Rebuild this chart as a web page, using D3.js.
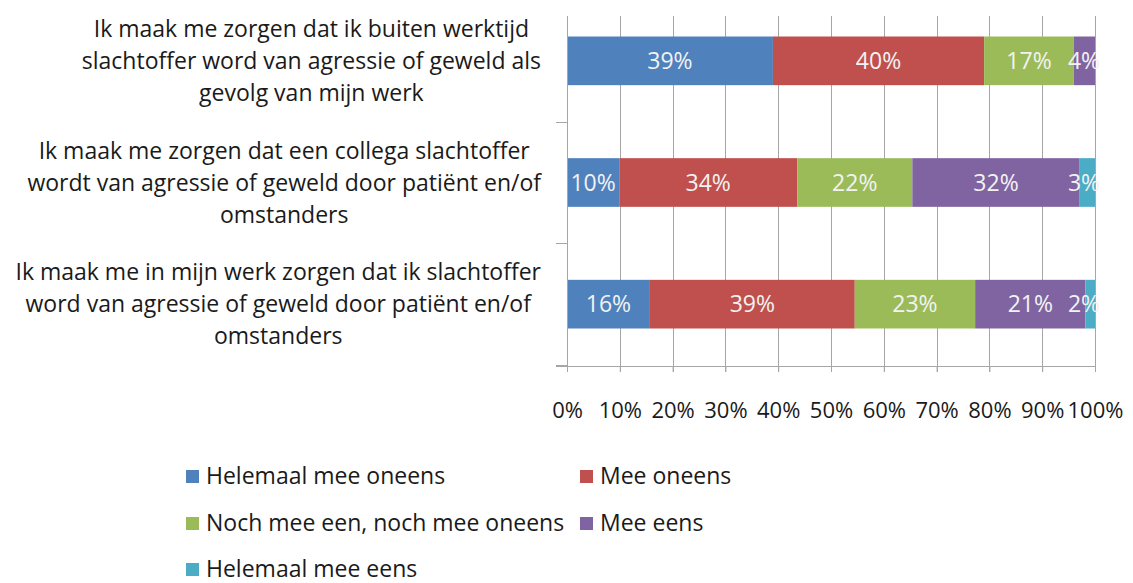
<!DOCTYPE html>
<html>
<head>
<meta charset="utf-8">
<script src="https://cdn.jsdelivr.net/npm/d3@7"></script>
<style>
  body { margin: 0; background: #fff; }
  text { font-family: "Open Sans", sans-serif; }
</style>
</head>
<body>
<div id="chart"></div>
<script>
var categories = [
  ["Ik maak me zorgen dat ik buiten werktijd", "slachtoffer word van agressie of geweld als", "gevolg van mijn werk"],
  ["Ik maak me zorgen dat een collega slachtoffer", "wordt van agressie of geweld door patiënt en/of", "omstanders"],
  ["Ik maak me in mijn werk zorgen dat ik slachtoffer", "word van agressie of geweld door patiënt en/of", "omstanders"]
];
var seriesNames = ["Helemaal mee oneens", "Mee oneens", "Noch mee een, noch mee oneens", "Mee eens", "Helemaal mee eens"];
var helemaalOneens = [39, 9.9, 15.7];
var meeOneens = [40, 33.7, 38.8];
var noch = [17, 21.8, 22.8];
var meeEens = [4, 31.7, 20.9];
var helemaalEens = [0, 2.9, 1.8];
var tickValues = [0, 0.1, 0.2, 0.3, 0.4, 0.5, 0.6, 0.7, 0.8, 0.9, 1];
var colors = ["#4f81bd", "#c0504d", "#9bbb59", "#8064a2", "#4bacc6"];

var W = 1133, H = 583;
var svg = d3.select("#chart").append("svg").attr("width", W).attr("height", H);

var x = d3.scaleLinear().domain([0, 1]).range([567, 1095]);
var y = d3.scaleBand().domain(d3.range(categories.length)).range([0, 365]).paddingInner(0.6).paddingOuter(0.3);

var rows = categories.map(function(c, i) {
  var vals = [helemaalOneens[i], meeOneens[i], noch[i], meeEens[i], helemaalEens[i]];
  var total = d3.sum(vals);
  var r = { idx: i };
  vals.forEach(function(v, k) { r["s" + k] = v / total; r["v" + k] = v; });
  return r;
});
var stack = d3.stack().keys(d3.range(5).map(function(k) { return "s" + k; }));
var series = stack(rows);

// gridlines
svg.append("g").selectAll("line").data(tickValues).enter().append("line")
  .attr("x1", function(d) { return Math.round(x(d)) + 0.5; })
  .attr("x2", function(d) { return Math.round(x(d)) + 0.5; })
  .attr("y1", 16).attr("y2", 372)
  .attr("stroke", "#a6a6a6").attr("stroke-width", 1);

// bars
var layer = svg.append("g").selectAll("g").data(series).enter().append("g")
  .attr("fill", function(d, k) { return colors[k]; });
layer.selectAll("rect").data(function(d) { return d; }).enter().append("rect")
  .attr("x", function(d) { return x(d[0]); })
  .attr("width", function(d) { return x(d[1]) - x(d[0]); })
  .attr("y", function(d) { return y(d.data.idx); })
  .attr("height", y.bandwidth());

// data labels
layer.selectAll("text").data(function(d, k) { return d.map(function(p) { return { p: p, k: k }; }); })
  .enter().filter(function(d) { return d.p.data["v" + d.k] > 0; })
  .append("text")
  .attr("x", function(d) {
    var cx = (x(d.p[0]) + x(d.p[1])) / 2;
    return Math.min(cx, 1084);
  })
  .attr("y", function(d) { return y(d.p.data.idx) + y.bandwidth() / 2; })
  .attr("dy", "0.35em")
  .attr("text-anchor", "middle")
  .attr("font-size", 23)
  .attr("fill", "#f2f2f2")
  .text(function(d) { return Math.round(d.p.data["v" + d.k]) + "%"; });

// y axis line with category ticks
svg.append("line").attr("x1", 567.5).attr("x2", 567.5).attr("y1", 16).attr("y2", 366)
  .attr("stroke", "#a6a6a6");
svg.append("g").selectAll("line").data([1, 2, 3]).enter().append("line")
  .attr("x1", 556).attr("x2", 567)
  .attr("y1", function(d) { return Math.round(d * 365 / 3) + 0.5; })
  .attr("y2", function(d) { return Math.round(d * 365 / 3) + 0.5; })
  .attr("stroke", "#a6a6a6");

// x axis
var xAxis = svg.append("g").attr("transform", "translate(0,366)")
  .call(d3.axisBottom(x).tickValues(tickValues).tickFormat(d3.format(".0%")).tickSize(6).tickPadding(30));
xAxis.select(".domain").attr("stroke", "#a6a6a6").attr("d", "M556,0.5H1095");
xAxis.selectAll(".tick line").attr("stroke", "#a6a6a6");
xAxis.selectAll(".tick text").attr("font-size", 22).attr("fill", "#1a1a1a")
  .attr("font-family", "Open Sans, sans-serif");

// category labels: each block centred on itself, right edge at 541
categories.forEach(function(lines, i) {
  var cy = y(i) + y.bandwidth() / 2;
  var t = svg.append("text").attr("text-anchor", "middle").attr("font-size", 23).attr("fill", "#1a1a1a");
  var spans = lines.map(function(l, j) {
    return t.append("tspan").attr("y", cy + (j - 1) * 32).attr("dy", "0.35em").text(l);
  });
  var maxW = d3.max(spans, function(s) { return s.node().getComputedTextLength(); });
  spans.forEach(function(s) { s.attr("x", 541 - maxW / 2); });
});

// legend
var legendPos = [[186, 476], [580, 476], [186, 523], [580, 523], [186, 569]];
var leg = svg.append("g").selectAll("g").data(seriesNames).enter().append("g")
  .attr("transform", function(d, k) { return "translate(" + legendPos[k][0] + "," + legendPos[k][1] + ")"; });
leg.append("rect").attr("x", 0).attr("y", -6).attr("width", 13).attr("height", 13)
  .attr("fill", function(d, k) { return colors[k]; });
leg.append("text").attr("x", 20).attr("dy", "0.35em").attr("font-size", 23).attr("fill", "#1a1a1a")
  .text(function(d) { return d; });
</script>
</body>
</html>
